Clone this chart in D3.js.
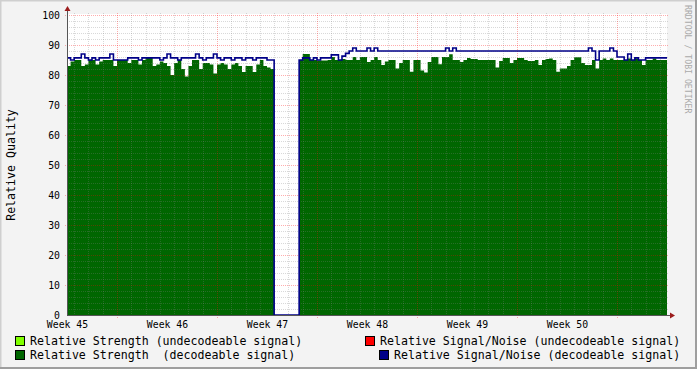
<!DOCTYPE html>
<html><head><meta charset="utf-8">
<script src="https://cdn.jsdelivr.net/npm/d3@7"></script>
<style>
html,body{margin:0;padding:0;background:#f3f3f3;}
svg{display:block;}
text{font-family:"DejaVu Sans Mono",monospace;fill:#000;}
</style></head>
<body>
<svg id="chart" width="697" height="369"></svg>
<script>
// ---- data (one value per 6-hour step, 168 steps = 6 weeks) ----
const weekTicks = [0, 28, 56, 84, 112, 140];
const weekLabels = ["Week 45", "Week 46", "Week 47", "Week 48", "Week 49", "Week 50"];
const yTicks = [0, 10, 20, 30, 40, 50, 60, 70, 80, 90, 100];

const strengthDecodeable = [
  83, 84.5, 85, 85, 83, 83.5, 85, 85, 83.5, 84.5,
  85, 85, 85, 83, 85, 85, 85, 84, 85, 85,
  83.5, 85, 86, 86, 83, 83.5, 84.5, 84, 83, 80,
  84, 85, 82, 79.5, 83, 85, 85, 82, 84, 84,
  83.5, 80.5, 83.5, 84, 83.5, 82, 83.5, 84, 83, 81,
  83, 83, 81, 83.5, 85, 83, 82.5, 82, 0, 0,
  0, 0, 0, 0, 0, 85, 87, 87, 85, 85,
  84.8, 84.8, 84.8, 85, 86, 85, 85, 85.3, 85, 85,
  86, 85, 86, 86, 84.3, 85, 86, 85, 83.3, 84.5,
  85, 85, 82.2, 84, 85, 85, 81.1, 85, 85, 81.5,
  80.8, 84.3, 86, 86, 83.6, 86, 86, 86.9, 85, 85,
  84.3, 85, 85.7, 85.3, 85.3, 85, 85, 85, 85, 85,
  82.5, 84.7, 85.7, 85.7, 84, 85, 85.7, 85.7, 85, 84.7,
  84.7, 85, 83.3, 85, 85.3, 85.5, 85, 81.1, 82.2, 82.2,
  83, 85, 85.9, 85.9, 84, 83.3, 83.3, 85, 82.2, 85,
  85.5, 85, 85.5, 85, 85, 85, 85, 85.5, 85, 85.5,
  85, 83.3, 85, 85, 85.5, 85, 85, 85
];
const snrDecodeable = [
  85.7, 85, 85.7, 85.7, 87, 85.7, 85, 85.7, 85, 85.7,
  85.7, 85.7, 87, 85, 85, 85, 85, 85.7, 85.7, 85.7,
  85, 85.7, 85.7, 85.7, 85.7, 85.7, 85, 85.7, 87, 85.7,
  85.7, 85, 85.7, 85.7, 85.7, 85.7, 87, 85.7, 85, 85.7,
  85.7, 87, 85.7, 85, 85.7, 85.7, 85, 85.7, 85.7, 85,
  85.7, 85.7, 85, 85.7, 85.7, 85.7, 85, 85, 0, 0,
  0, 0, 0, 0, 0, 85, 85.7, 85.7, 85, 85.7,
  85, 85.7, 85.7, 85.7, 86.7, 86.7, 85, 86.3, 87.2, 88,
  89, 88, 88, 88, 89, 88, 89, 88, 88, 88,
  88, 88, 88, 88, 88, 88, 88, 88, 88, 88,
  88, 88, 88, 88, 88, 88, 89, 88, 89, 88,
  88, 88, 88, 88, 88, 88, 88, 88, 88, 88,
  88, 88, 88, 88, 88, 88, 88, 88, 88, 88,
  88, 88, 88, 88, 88, 88, 88, 88, 88, 88,
  88, 88, 88, 88, 88, 88, 89, 88, 85, 88,
  88, 88, 89, 88, 86, 86, 85, 87, 85, 85.7,
  85, 85, 85.7, 85.7, 85.7, 85.7, 85.7, 85.7
];
const legendItems = [
  {label: "Relative Strength (undecodeable signal)", color: "#80ff00"},
  {label: "Relative Strength  (decodeable signal)", color: "#006600"},
  {label: "Relative Signal/Noise (undecodeable signal)", color: "#ff0000"},
  {label: "Relative Signal/Noise (decodeable signal)", color: "#000088"}
];

// ---- drawing ----
const W = 697, H = 369;
const L = 67, R = 667, T = 15, B = 315;
const nSteps = strengthDecodeable.length;
const svg = d3.select("#chart");

// frame
svg.append("rect").attr("x",0).attr("y",0).attr("width",W).attr("height",H).attr("fill","#f3f3f3");
svg.append("path").attr("d",`M0,${H} L0,0 L${W},0`).attr("fill","none").attr("stroke","#cfcfcf").attr("stroke-width",3);
svg.append("path").attr("d",`M0,${H} L${W},${H} L${W},0`).attr("fill","none").attr("stroke","#9e9e9e").attr("stroke-width",4);

const x = d3.scaleLinear().domain([0, nSteps]).range([L, R]);
const y = d3.scaleLinear().domain([0, 100]).range([B, T]);

// canvas
svg.append("rect").attr("x",L).attr("y",T-1).attr("width",R-L).attr("height",B-T+1).attr("fill","#ffffff");

function stepData(arr){
  const d = arr.map((v,i)=>({t:i, v:v}));
  d.push({t:arr.length, v:arr[arr.length-1]});
  return d;
}

// green area
svg.append("path")
  .datum(stepData(strengthDecodeable))
  .attr("fill","#006600")
  .attr("d", d3.area().curve(d3.curveStepAfter).x(d=>x(d.t)).y0(y(0)).y1(d=>y(d.v)));

// grid (drawn over graph, semi-transparent)
const grid = svg.append("g").attr("shape-rendering","crispEdges");
const minorX = d3.range(2, nSteps, 4);
const majorX = d3.range(14, nSteps, 28);
grid.selectAll(".vminor").data(minorX.filter(t=>!majorX.includes(t))).enter().append("line")
  .attr("x1",d=>Math.round(x(d))+0.5).attr("x2",d=>Math.round(x(d))+0.5).attr("y1",T-2).attr("y2",B)
  .attr("stroke","rgba(128,128,128,0.3)").attr("stroke-dasharray","1,1");
const hMinor = d3.range(2, 100, 2).filter(v=>v%10!==0);
grid.selectAll(".hminor").data(hMinor).enter().append("line")
  .attr("x1",L).attr("x2",R+2).attr("y1",d=>Math.round(y(d))+0.5).attr("y2",d=>Math.round(y(d))+0.5)
  .attr("stroke","rgba(128,128,128,0.3)").attr("stroke-dasharray","1,1");
grid.selectAll(".vmajor").data(majorX).enter().append("line")
  .attr("x1",d=>Math.round(x(d))+0.5).attr("x2",d=>Math.round(x(d))+0.5).attr("y1",T-2).attr("y2",B+3)
  .attr("stroke","rgba(255,0,0,0.32)").attr("stroke-dasharray","1,1");
grid.selectAll(".hmajor").data(yTicks.filter(v=>v>0)).enter().append("line")
  .attr("x1",L-2).attr("x2",R+2).attr("y1",d=>Math.round(y(d))+0.5).attr("y2",d=>Math.round(y(d))+0.5)
  .attr("stroke","rgba(255,0,0,0.32)").attr("stroke-dasharray","1,1");

// blue line
svg.append("path")
  .datum(stepData(snrDecodeable))
  .attr("fill","none").attr("stroke","#000088").attr("stroke-width",1.6)
  .attr("d", d3.line().curve(d3.curveStepAfter).x(d=>x(d.t)).y(d=>y(d.v)));

// axes lines & arrows
svg.append("line").attr("x1",L).attr("x2",R+4).attr("y1",B+0.5).attr("y2",B+0.5).attr("stroke","#555").attr("stroke-width",1);
svg.append("line").attr("x1",L+0.5).attr("x2",L+0.5).attr("y1",B).attr("y2",T-5).attr("stroke","#555").attr("stroke-width",1);
svg.append("path").attr("d",`M${R+3},${B-2.5} L${R+8},${B+0.5} L${R+3},${B+3.5} Z`).attr("fill","#9b1c1c");
svg.append("path").attr("d",`M${L-2.5},${T-4} L${L+0.5},${T-9} L${L+3.5},${T-4} Z`).attr("fill","#9b1c1c");

// axis labels via d3 axes
const xAxis = svg.append("g").attr("transform",`translate(0,${B})`)
  .call(d3.axisBottom(x).tickValues(weekTicks).tickFormat((d,i)=>weekLabels[i]).tickSize(0).tickPadding(7));
const yAxis = svg.append("g").attr("transform",`translate(${L},0)`)
  .call(d3.axisLeft(y).tickValues(yTicks).tickFormat(d3.format("d")).tickSize(0).tickPadding(7));
[xAxis,yAxis].forEach(g=>{
  g.select(".domain").remove();
  g.selectAll("text").attr("font-family","DejaVu Sans Mono").attr("font-size","9.8px").attr("fill","#000");
});
xAxis.selectAll("text").attr("dy","0.6em");

// y title
svg.append("text").attr("transform","translate(15,165) rotate(-90)")
  .attr("text-anchor","middle").attr("font-size","11.6px").text("Relative Quality");

// watermark
svg.append("text").attr("transform","translate(685,5) rotate(90)")
  .attr("font-size","8.2px").style("fill","#aaaaaa").text("RRDTOOL / TOBI OETIKER");

// legend
const legPos = [
  {sx:15, tx:30, y:341},
  {sx:15, tx:30, y:355},
  {sx:365, tx:380, y:341},
  {sx:379, tx:394, y:355}
];
legendItems.forEach((it,i)=>{
  const p = legPos[i];
  svg.append("rect").attr("x",p.sx+0.5).attr("y",p.y-4.5).attr("width",9).attr("height",9)
    .attr("fill",it.color).attr("stroke","#000").attr("stroke-width",1);
  svg.append("text").attr("x",p.tx).attr("y",p.y+4).attr("font-size","11.6px")
    .attr("xml:space","preserve").style("white-space","pre").text(it.label);
});
</script>
</body></html>
